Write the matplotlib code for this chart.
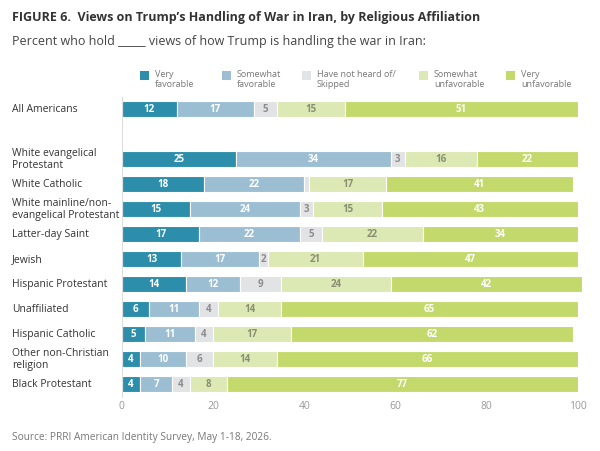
import matplotlib.pyplot as plt
from matplotlib.patches import Rectangle
from matplotlib.transforms import blended_transform_factory

plt.rcParams['font.family'] = ['Open Sans', 'DejaVu Sans']

groups = ["All Americans", "", "White evangelical\nProtestant", "White Catholic",
          "White mainline/non-\nevangelical Protestant", "Latter-day Saint", "Jewish",
          "Hispanic Protestant", "Unaffiliated", "Hispanic Catholic",
          "Other non-Christian\nreligion", "Black Protestant"]
very_fav = [12, None, 25, 18, 15, 17, 13, 14, 6, 5, 4, 4]
some_fav = [17, None, 34, 22, 24, 22, 17, 12, 11, 11, 10, 7]
not_heard = [5, None, 3, 1, 3, 5, 2, 9, 4, 4, 6, 4]
some_unfav = [15, None, 16, 17, 15, 22, 21, 24, 14, 17, 14, 8]
very_unfav = [51, None, 22, 41, 43, 34, 47, 42, 65, 62, 66, 77]

series = [very_fav, some_fav, not_heard, some_unfav, very_unfav]
names = ["Very\nfavorable", "Somewhat\nfavorable", "Have not heard of/\nSkipped",
         "Somewhat\nunfavorable", "Very\nunfavorable"]
colors = ["#2c8eab", "#9cbed2", "#e2e3e5", "#dce9b4", "#c3d96b"]
txt_colors = ["white", "white", "#8c8c8c", "#8a8e72", "white"]

fig = plt.figure(figsize=(6, 4.51), dpi=100)
ax = fig.add_axes([0.203, 0.12, 0.76, 0.665])

left = [0] * len(groups)
for vals, col, tc in zip(series, colors, txt_colors):
    for i, v in enumerate(vals):
        if v is None:
            continue
        ax.barh(i, v, left=left[i], height=0.64, color=col, edgecolor="white",
                linewidth=0.8, clip_on=False)
        if v >= 2:
            ax.text(left[i] + v / 2, i, str(v), ha="center", va="center",
                    fontsize=7, fontweight="bold", color=tc)
        left[i] += v

ax.set_xlim(0, 100)
ax.set_ylim(11.5, -0.5)
ax.set_yticks([])
ax.set_xticks([0, 20, 40, 60, 80, 100])
ax.tick_params(axis="x", length=0, colors="#999999", labelsize=7.5, pad=3)
for s in ["top", "right", "bottom"]:
    ax.spines[s].set_visible(False)
ax.spines["left"].set_color("#dddddd")
ax.spines["left"].set_linewidth(0.8)

tr = blended_transform_factory(fig.transFigure, ax.transData)
for i, g in enumerate(groups):
    ax.text(0.02, i, g, transform=tr, ha="left", va="center", fontsize=7.5,
            color="#333333", linespacing=1.05)

# legend
leg_x = [0.233, 0.37, 0.503, 0.698, 0.843]
for x, n, col in zip(leg_x, names, colors):
    fig.patches.append(Rectangle((x, 0.822), 0.015, 0.02, transform=fig.transFigure,
                                 facecolor=col, edgecolor="none"))
    fig.text(x + 0.025, 0.845, n, ha="left", va="top", fontsize=6.5,
             color="#777777", linespacing=1.15)

fig.text(0.02, 0.962, "FIGURE 6.  Views on Trump\u2019s Handling of War in Iran, by Religious Affiliation",
         fontsize=9, fontweight="bold", color="#333333", va="center")
fig.text(0.02, 0.907, "Percent who hold _____ views of how Trump is handling the war in Iran:",
         fontsize=9, color="#444444", va="center")
fig.text(0.02, 0.03, "Source: PRRI American Identity Survey, May 1-18, 2026.",
         fontsize=7.3, color="#777777", va="center")

fig.savefig("out.png", dpi=100)
